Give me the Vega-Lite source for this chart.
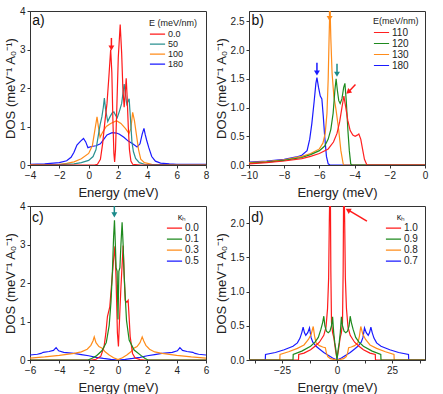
{
"$schema":"https://vega.github.io/schema/vega-lite/v6.json",
"padding":{"left":3,"top":5,"right":5,"bottom":3},
"config":{
 "font":"Liberation Sans",
 "view":{"stroke":"#333","strokeWidth":1},
 "axis":{"grid":false,"tickCount":30,"tickSize":3,"labelFontSize":10,"titleFontSize":13,"titleFontWeight":"normal","labelColor":"#222","titleColor":"#222","domainColor":"#333","tickColor":"#333","labelPadding":2,"titlePadding":2,"labelFlush":false,"labelOverlap":false},
 "axisX":{"titlePadding":6},
 "legend":{"orient":"top-right","offset":7,"padding":0,"titleFontSize":9,"titleFontWeight":"normal","labelFontSize":9,"symbolStrokeWidth":1.6,"symbolSize":230,"symbolType":"stroke","rowPadding":0,"labelOffset":2,"titlePadding":1,"labelColor":"#222","titleColor":"#222"},
 "line":{"strokeWidth":1.2}
},
"resolve":{"scale":{"color":"independent"}},
"spacing":0,
"vconcat":[
{"hconcat":[
{"width":176,"height":154,
 "layer":[
 {"data":{"values":[
 {"s":"180","x":-4,"y":0.02},{"s":"180","x":-3,"y":0.03},{"s":"180","x":-2,"y":0.06},{"s":"180","x":-1.5,"y":0.11},{"s":"180","x":-1.2,"y":0.2},{"s":"180","x":-1.0,"y":0.33},{"s":"180","x":-0.8,"y":0.52},{"s":"180","x":-0.55,"y":0.62},{"s":"180","x":-0.35,"y":0.69},{"s":"180","x":-0.2,"y":0.6},{"s":"180","x":-0.05,"y":0.45},{"s":"180","x":0.2,"y":0.48},{"s":"180","x":0.5,"y":0.5},{"s":"180","x":0.8,"y":0.55},{"s":"180","x":1.0,"y":0.65},{"s":"180","x":1.25,"y":0.78},{"s":"180","x":1.6,"y":0.84},{"s":"180","x":1.9,"y":0.83},{"s":"180","x":2.1,"y":0.8},{"s":"180","x":2.4,"y":0.72},{"s":"180","x":2.7,"y":0.62},{"s":"180","x":3.0,"y":0.55},{"s":"180","x":3.3,"y":0.47},{"s":"180","x":3.5,"y":0.55},{"s":"180","x":3.65,"y":0.8},{"s":"180","x":3.77,"y":0.95},{"s":"180","x":3.85,"y":0.8},{"s":"180","x":3.95,"y":0.65},{"s":"180","x":4.1,"y":0.45},{"s":"180","x":4.3,"y":0.22},{"s":"180","x":4.55,"y":0.1},{"s":"180","x":4.9,"y":0.05},{"s":"180","x":5.5,"y":0.03},{"s":"180","x":6,"y":0.02},{"s":"180","x":8,"y":0.02},
 {"s":"100","x":-4,"y":0.01},{"s":"100","x":-2,"y":0.02},{"s":"100","x":-1.5,"y":0.04},{"s":"100","x":-1,"y":0.08},{"s":"100","x":-0.5,"y":0.16},{"s":"100","x":0,"y":0.3},{"s":"100","x":0.25,"y":0.5},{"s":"100","x":0.42,"y":0.9},{"s":"100","x":0.57,"y":1.25},{"s":"100","x":0.68,"y":0.95},{"s":"100","x":0.78,"y":0.72},{"s":"100","x":0.95,"y":0.85},{"s":"100","x":1.2,"y":1.0},{"s":"100","x":1.5,"y":1.08},{"s":"100","x":1.9,"y":1.15},{"s":"100","x":2.2,"y":1.08},{"s":"100","x":2.5,"y":0.95},{"s":"100","x":2.75,"y":0.82},{"s":"100","x":2.88,"y":0.95},{"s":"100","x":3.0,"y":1.37},{"s":"100","x":3.12,"y":1.15},{"s":"100","x":3.25,"y":0.8},{"s":"100","x":3.4,"y":0.4},{"s":"100","x":3.55,"y":0.15},{"s":"100","x":3.8,"y":0.06},{"s":"100","x":4.3,"y":0.02},{"s":"100","x":5,"y":0.01},{"s":"100","x":8,"y":0.01},
 {"s":"50","x":-4,"y":0},{"s":"50","x":-2,"y":0.01},{"s":"50","x":-1,"y":0.03},{"s":"50","x":-0.5,"y":0.06},{"s":"50","x":0,"y":0.12},{"s":"50","x":0.3,"y":0.22},{"s":"50","x":0.5,"y":0.4},{"s":"50","x":0.65,"y":0.75},{"s":"50","x":0.78,"y":1.05},{"s":"50","x":0.9,"y":1.25},{"s":"50","x":1.0,"y":1.5},{"s":"50","x":1.07,"y":1.74},{"s":"50","x":1.15,"y":1.45},{"s":"50","x":1.3,"y":1.13},{"s":"50","x":1.45,"y":1.25},{"s":"50","x":1.6,"y":1.35},{"s":"50","x":1.72,"y":1.38},{"s":"50","x":1.85,"y":1.28},{"s":"50","x":1.95,"y":1.23},{"s":"50","x":2.1,"y":1.4},{"s":"50","x":2.25,"y":1.6},{"s":"50","x":2.35,"y":1.9},{"s":"50","x":2.42,"y":2.1},{"s":"50","x":2.5,"y":1.85},{"s":"50","x":2.6,"y":1.58},{"s":"50","x":2.68,"y":1.65},{"s":"50","x":2.76,"y":1.72},{"s":"50","x":2.85,"y":1.2},{"s":"50","x":2.95,"y":0.6},{"s":"50","x":3.05,"y":0.35},{"s":"50","x":3.2,"y":0.17},{"s":"50","x":3.45,"y":0.06},{"s":"50","x":3.8,"y":0.02},{"s":"50","x":5,"y":0.01},{"s":"50","x":8,"y":0.01},
 {"s":"0.0","x":-4,"y":0},{"s":"0.0","x":0.4,"y":0},{"s":"0.0","x":0.6,"y":0.02},{"s":"0.0","x":0.8,"y":0.15},{"s":"0.0","x":0.95,"y":0.55},{"s":"0.0","x":1.1,"y":1.1},{"s":"0.0","x":1.25,"y":1.6},{"s":"0.0","x":1.38,"y":2.3},{"s":"0.0","x":1.5,"y":3.0},{"s":"0.0","x":1.58,"y":2.4},{"s":"0.0","x":1.65,"y":1.2},{"s":"0.0","x":1.72,"y":0.3},{"s":"0.0","x":1.77,"y":0.08},{"s":"0.0","x":1.83,"y":0.4},{"s":"0.0","x":1.92,"y":1.5},{"s":"0.0","x":2.02,"y":2.8},{"s":"0.0","x":2.15,"y":3.65},{"s":"0.0","x":2.25,"y":2.9},{"s":"0.0","x":2.33,"y":2.0},{"s":"0.0","x":2.42,"y":1.5},{"s":"0.0","x":2.5,"y":1.9},{"s":"0.0","x":2.56,"y":2.25},{"s":"0.0","x":2.62,"y":1.8},{"s":"0.0","x":2.7,"y":1.0},{"s":"0.0","x":2.78,"y":0.4},{"s":"0.0","x":2.88,"y":0.1},{"s":"0.0","x":3.0,"y":0.02},{"s":"0.0","x":3.5,"y":0},{"s":"0.0","x":8,"y":0}
 ]},
 "mark":{"type":"line","clip":true},
 "encoding":{
  "x":{"field":"x","type":"quantitative","scale":{"domain":[-4,8],"nice":false},"axis":{"values":[-4,-2,0,2,4,6,8],"format":"d","title":"Energy (meV)"}},
  "y":{"field":"y","type":"quantitative","scale":{"domain":[0,4],"nice":false},"axis":{"values":[0,1,2,3,4],"format":"d","title":"DOS (meV⁻¹ A₀⁻¹)"}},
  "color":{"field":"s","type":"nominal","sort":null,"scale":{"domain":["0.0","50","100","180"],"range":["#ff1a1a","#2a9090","#ff8c1a","#1a1aff"]},"legend":{"title":"E (meV/nm)","clipHeight":8.3,"offset":8,"titlePadding":2}}
 }},
 {"data":{"values":[{"x":1.55,"y":3.3,"x2":1.55,"y2":3.05}]},"mark":{"type":"rule","color":"#ff1a1a","strokeWidth":1.5},"encoding":{"x":{"field":"x","type":"quantitative"},"y":{"field":"y","type":"quantitative"},"x2":{"field":"x2"},"y2":{"field":"y2"}}},
 {"data":{"values":[{"x":1.55,"y":3.04}]},"mark":{"type":"point","shape":"triangle-down","filled":true,"size":35,"color":"#ff1a1a","opacity":1},"encoding":{"x":{"field":"x","type":"quantitative"},"y":{"field":"y","type":"quantitative"}}},
 {"data":{"values":[{"x":-3.85,"y":3.93,"t":"a)"}]},"mark":{"type":"text","align":"left","baseline":"top","fontSize":14,"color":"#111"},"encoding":{"x":{"field":"x","type":"quantitative"},"y":{"field":"y","type":"quantitative"},"text":{"field":"t"}}}
 ]},
{"width":176,"height":154,
 "layer":[
 {"data":{"values":[
 {"s":"180","x":-10,"y":0.05},{"s":"180","x":-9,"y":0.07},{"s":"180","x":-8,"y":0.1},{"s":"180","x":-7.3,"y":0.14},{"s":"180","x":-7,"y":0.17},{"s":"180","x":-6.7,"y":0.25},{"s":"180","x":-6.55,"y":0.45},{"s":"180","x":-6.43,"y":0.72},{"s":"180","x":-6.3,"y":1.1},{"s":"180","x":-6.2,"y":1.42},{"s":"180","x":-6.14,"y":1.52},{"s":"180","x":-6.05,"y":1.35},{"s":"180","x":-5.95,"y":1.2},{"s":"180","x":-5.86,"y":1.15},{"s":"180","x":-5.78,"y":0.85},{"s":"180","x":-5.7,"y":0.5},{"s":"180","x":-5.6,"y":0.15},{"s":"180","x":-5.5,"y":0.02},{"s":"180","x":-5.4,"y":0},{"s":"180","x":0,"y":0},
 {"s":"130","x":-10,"y":0.04},{"s":"130","x":-9,"y":0.06},{"s":"130","x":-8,"y":0.09},{"s":"130","x":-7,"y":0.15},{"s":"130","x":-6.5,"y":0.2},{"s":"130","x":-6,"y":0.28},{"s":"130","x":-5.8,"y":0.38},{"s":"130","x":-5.67,"y":0.55},{"s":"130","x":-5.57,"y":0.9},{"s":"130","x":-5.5,"y":1.5},{"s":"130","x":-5.45,"y":2.2},{"s":"130","x":-5.4,"y":2.8},{"s":"130","x":-5.35,"y":2.2},{"s":"130","x":-5.28,"y":1.6},{"s":"130","x":-5.18,"y":1.2},{"s":"130","x":-5.05,"y":0.95},{"s":"130","x":-4.9,"y":0.6},{"s":"130","x":-4.78,"y":0.25},{"s":"130","x":-4.65,"y":0.02},{"s":"130","x":-4.6,"y":0},{"s":"130","x":0,"y":0},
 {"s":"120","x":-10,"y":0.03},{"s":"120","x":-9,"y":0.05},{"s":"120","x":-8,"y":0.08},{"s":"120","x":-7,"y":0.13},{"s":"120","x":-6.5,"y":0.18},{"s":"120","x":-6,"y":0.25},{"s":"120","x":-5.7,"y":0.33},{"s":"120","x":-5.5,"y":0.45},{"s":"120","x":-5.35,"y":0.62},{"s":"120","x":-5.22,"y":0.9},{"s":"120","x":-5.12,"y":1.3},{"s":"120","x":-5.05,"y":1.5},{"s":"120","x":-4.98,"y":1.3},{"s":"120","x":-4.9,"y":1.12},{"s":"120","x":-4.82,"y":1.07},{"s":"120","x":-4.72,"y":1.15},{"s":"120","x":-4.62,"y":1.35},{"s":"120","x":-4.55,"y":1.42},{"s":"120","x":-4.47,"y":1.1},{"s":"120","x":-4.38,"y":0.6},{"s":"120","x":-4.3,"y":0.25},{"s":"120","x":-4.22,"y":0.02},{"s":"120","x":-4.15,"y":0},{"s":"120","x":0,"y":0},
 {"s":"110","x":-10,"y":0.02},{"s":"110","x":-9,"y":0.04},{"s":"110","x":-8,"y":0.07},{"s":"110","x":-7,"y":0.11},{"s":"110","x":-6.5,"y":0.15},{"s":"110","x":-6,"y":0.2},{"s":"110","x":-5.5,"y":0.28},{"s":"110","x":-5.2,"y":0.4},{"s":"110","x":-5.0,"y":0.55},{"s":"110","x":-4.85,"y":0.75},{"s":"110","x":-4.72,"y":1.0},{"s":"110","x":-4.61,"y":1.2},{"s":"110","x":-4.5,"y":1.0},{"s":"110","x":-4.39,"y":0.78},{"s":"110","x":-4.25,"y":0.6},{"s":"110","x":-4.1,"y":0.52},{"s":"110","x":-3.97,"y":0.5},{"s":"110","x":-3.85,"y":0.52},{"s":"110","x":-3.76,"y":0.54},{"s":"110","x":-3.65,"y":0.45},{"s":"110","x":-3.55,"y":0.28},{"s":"110","x":-3.44,"y":0.1},{"s":"110","x":-3.3,"y":0},{"s":"110","x":0,"y":0}
 ]},
 "mark":{"type":"line","clip":true},
 "encoding":{
  "x":{"field":"x","type":"quantitative","scale":{"domain":[-10,0],"nice":false},"axis":{"values":[-10,-8,-6,-4,-2,0],"format":"d","title":"Energy (meV)"}},
  "y":{"field":"y","type":"quantitative","scale":{"domain":[0,2.68],"nice":false},"axis":{"values":[0,0.5,1,1.5,2,2.5],"format":".1f","title":"DOS (meV⁻¹ A₀⁻¹)"}},
  "color":{"field":"s","type":"nominal","sort":null,"scale":{"domain":["110","120","130","180"],"range":["#ff2020","#1e8a1e","#ff8c1a","#1a1aff"]},"legend":{"title":"E(meV/nm)","clipHeight":11,"labelFontSize":10,"offset":6}}
 }},
 {"data":{"values":[{"x":-5.42,"y":2.68,"x2":-5.42,"y2":2.53}]},"mark":{"type":"rule","strokeWidth":1.5,"color":"#ff8c1a"},"encoding":{"x":{"field":"x","type":"quantitative"},"y":{"field":"y","type":"quantitative"},"x2":{"field":"x2"},"y2":{"field":"y2"}}},
 {"data":{"values":[{"x":-5.0,"y":1.76,"x2":-5.0,"y2":1.58}]},"mark":{"type":"rule","strokeWidth":1.5,"color":"#1a8a8a"},"encoding":{"x":{"field":"x","type":"quantitative"},"y":{"field":"y","type":"quantitative"},"x2":{"field":"x2"},"y2":{"field":"y2"}}},
 {"data":{"values":[{"x":-6.14,"y":1.78,"x2":-6.14,"y2":1.6}]},"mark":{"type":"rule","strokeWidth":1.5,"color":"#1a1aff"},"encoding":{"x":{"field":"x","type":"quantitative"},"y":{"field":"y","type":"quantitative"},"x2":{"field":"x2"},"y2":{"field":"y2"}}},
 {"data":{"values":[{"x":-3.95,"y":1.4,"x2":-4.35,"y2":1.27}]},"mark":{"type":"rule","strokeWidth":1.5,"color":"#ff1a1a"},"encoding":{"x":{"field":"x","type":"quantitative"},"y":{"field":"y","type":"quantitative"},"x2":{"field":"x2"},"y2":{"field":"y2"}}},
 {"data":{"values":[{"x":-5.0,"y":1.58}]},"mark":{"type":"point","shape":"triangle-down","filled":true,"size":35,"opacity":1,"color":"#1a8a8a"},"encoding":{"x":{"field":"x","type":"quantitative"},"y":{"field":"y","type":"quantitative"}}},
 {"data":{"values":[{"x":-5.42,"y":2.55}]},"mark":{"type":"point","shape":"triangle-down","filled":true,"size":35,"opacity":1,"color":"#ff8c1a"},"encoding":{"x":{"field":"x","type":"quantitative"},"y":{"field":"y","type":"quantitative"}}},
 {"data":{"values":[{"x":-6.14,"y":1.6}]},"mark":{"type":"point","shape":"triangle-down","filled":true,"size":35,"opacity":1,"color":"#1a1aff"},"encoding":{"x":{"field":"x","type":"quantitative"},"y":{"field":"y","type":"quantitative"}}},
 {"data":{"values":[{"x":-4.36,"y":1.27}]},"mark":{"type":"point","shape":"triangle-up","angle":228,"filled":true,"size":35,"opacity":1,"color":"#ff1a1a"},"encoding":{"x":{"field":"x","type":"quantitative"},"y":{"field":"y","type":"quantitative"}}},
 {"data":{"values":[{"x":-9.86,"y":2.62,"t":"b)"}]},"mark":{"type":"text","align":"left","baseline":"top","fontSize":14,"color":"#111"},"encoding":{"x":{"field":"x","type":"quantitative"},"y":{"field":"y","type":"quantitative"},"text":{"field":"t"}}}
 ]}
],"spacing":4,"resolve":{"scale":{"color":"independent"}}},
{"hconcat":[
{"width":176,"height":154,
 "layer":[
 {"data":{"values":[
 {"s":"0.5","x":-6,"y":0.13},{"s":"0.5","x":-5.5,"y":0.15},{"s":"0.5","x":-5.25,"y":0.17},{"s":"0.5","x":-5.1,"y":0.2},{"s":"0.5","x":-4.7,"y":0.22},{"s":"0.5","x":-4.4,"y":0.25},{"s":"0.5","x":-4.22,"y":0.32},{"s":"0.5","x":-4.05,"y":0.24},{"s":"0.5","x":-3.7,"y":0.2},{"s":"0.5","x":-3,"y":0.17},{"s":"0.5","x":-2.5,"y":0.14},{"s":"0.5","x":-2,"y":0.11},{"s":"0.5","x":-1.5,"y":0.07},{"s":"0.5","x":-1,"y":0.04},{"s":"0.5","x":-0.5,"y":0.015},{"s":"0.5","x":0,"y":0},{"s":"0.5","x":0.5,"y":0.015},{"s":"0.5","x":1,"y":0.04},{"s":"0.5","x":1.5,"y":0.07},{"s":"0.5","x":2,"y":0.11},{"s":"0.5","x":2.5,"y":0.14},{"s":"0.5","x":3,"y":0.17},{"s":"0.5","x":3.7,"y":0.2},{"s":"0.5","x":4.05,"y":0.24},{"s":"0.5","x":4.22,"y":0.32},{"s":"0.5","x":4.4,"y":0.25},{"s":"0.5","x":4.7,"y":0.22},{"s":"0.5","x":5.1,"y":0.2},{"s":"0.5","x":5.25,"y":0.17},{"s":"0.5","x":5.5,"y":0.15},{"s":"0.5","x":6,"y":0.13},
 {"s":"0.3","x":-6,"y":0.05},{"s":"0.3","x":-5,"y":0.08},{"s":"0.3","x":-4,"y":0.12},{"s":"0.3","x":-3,"y":0.17},{"s":"0.3","x":-2.5,"y":0.21},{"s":"0.3","x":-2.1,"y":0.28},{"s":"0.3","x":-1.85,"y":0.38},{"s":"0.3","x":-1.7,"y":0.5},{"s":"0.3","x":-1.62,"y":0.6},{"s":"0.3","x":-1.5,"y":0.45},{"s":"0.3","x":-1.3,"y":0.35},{"s":"0.3","x":-1.05,"y":0.3},{"s":"0.3","x":-0.9,"y":0.22},{"s":"0.3","x":-0.6,"y":0.13},{"s":"0.3","x":-0.3,"y":0.06},{"s":"0.3","x":0,"y":0.01},{"s":"0.3","x":0.3,"y":0.06},{"s":"0.3","x":0.6,"y":0.13},{"s":"0.3","x":0.9,"y":0.22},{"s":"0.3","x":1.05,"y":0.3},{"s":"0.3","x":1.3,"y":0.35},{"s":"0.3","x":1.5,"y":0.45},{"s":"0.3","x":1.65,"y":0.6},{"s":"0.3","x":1.75,"y":0.5},{"s":"0.3","x":1.9,"y":0.38},{"s":"0.3","x":2.15,"y":0.28},{"s":"0.3","x":2.5,"y":0.21},{"s":"0.3","x":3,"y":0.17},{"s":"0.3","x":4,"y":0.12},{"s":"0.3","x":5,"y":0.08},{"s":"0.3","x":6,"y":0.05},
 {"s":"0.0","x":-6,"y":0},{"s":"0.0","x":-1.8,"y":0},{"s":"0.0","x":-1.5,"y":0.02},{"s":"0.0","x":-1.17,"y":0.1},{"s":"0.0","x":-0.95,"y":0.35},{"s":"0.0","x":-0.83,"y":0.69},{"s":"0.0","x":-0.72,"y":1.13},{"s":"0.0","x":-0.56,"y":1.38},{"s":"0.0","x":-0.45,"y":1.9},{"s":"0.0","x":-0.31,"y":2.58},{"s":"0.0","x":-0.21,"y":2.95},{"s":"0.0","x":-0.13,"y":2.07},{"s":"0.0","x":-0.04,"y":0.7},{"s":"0.0","x":0.03,"y":0.35},{"s":"0.0","x":0.12,"y":1.2},{"s":"0.0","x":0.19,"y":1.81},{"s":"0.0","x":0.35,"y":2.97},{"s":"0.0","x":0.42,"y":2.2},{"s":"0.0","x":0.49,"y":1.55},{"s":"0.0","x":0.6,"y":1.5},{"s":"0.0","x":0.69,"y":1.55},{"s":"0.0","x":0.76,"y":1.1},{"s":"0.0","x":0.83,"y":0.61},{"s":"0.0","x":0.99,"y":0.17},{"s":"0.0","x":1.17,"y":0.05},{"s":"0.0","x":1.5,"y":0.01},{"s":"0.0","x":1.8,"y":0},{"s":"0.0","x":6,"y":0},
 {"s":"0.1","x":-6,"y":0},{"s":"0.1","x":-2.05,"y":0},{"s":"0.1","x":-1.8,"y":0.04},{"s":"0.1","x":-1.5,"y":0.1},{"s":"0.1","x":-1.1,"y":0.24},{"s":"0.1","x":-0.8,"y":0.45},{"s":"0.1","x":-0.6,"y":0.9},{"s":"0.1","x":-0.48,"y":1.5},{"s":"0.1","x":-0.38,"y":2.3},{"s":"0.1","x":-0.3,"y":3.2},{"s":"0.1","x":-0.24,"y":3.63},{"s":"0.1","x":-0.18,"y":3.0},{"s":"0.1","x":-0.13,"y":2.4},{"s":"0.1","x":-0.06,"y":2.3},{"s":"0.1","x":0.0,"y":1.05},{"s":"0.1","x":0.06,"y":2.3},{"s":"0.1","x":0.13,"y":2.4},{"s":"0.1","x":0.2,"y":3.0},{"s":"0.1","x":0.28,"y":3.58},{"s":"0.1","x":0.35,"y":3.0},{"s":"0.1","x":0.42,"y":2.2},{"s":"0.1","x":0.5,"y":1.6},{"s":"0.1","x":0.58,"y":1.03},{"s":"0.1","x":0.76,"y":0.52},{"s":"0.1","x":1.1,"y":0.26},{"s":"0.1","x":1.56,"y":0.12},{"s":"0.1","x":1.85,"y":0.04},{"s":"0.1","x":2.05,"y":0},{"s":"0.1","x":6,"y":0}
 ]},
 "mark":{"type":"line","clip":true},
 "encoding":{
  "x":{"field":"x","type":"quantitative","scale":{"domain":[-6,6],"nice":false},"axis":{"values":[-6,-4,-2,0,2,4,6],"format":"d","title":"Energy (meV)"}},
  "y":{"field":"y","type":"quantitative","scale":{"domain":[0,4],"nice":false},"axis":{"values":[0,1,2,3,4],"format":"d","title":"DOS (meV⁻¹ A₀⁻¹)"}},
  "color":{"field":"s","type":"nominal","sort":null,"scale":{"domain":["0.0","0.1","0.3","0.5"],"range":["#ff1a1a","#1e8a1e","#ff8c1a","#1a1aff"]},"legend":{"title":"κₕ","clipHeight":10.2,"titleAnchor":"middle","titleAlign":"center","titlePadding":1,"labelFontSize":10}}
 }},
 {"data":{"values":[{"x":-0.25,"y":4.0,"x2":-0.25,"y2":3.78}]},"mark":{"type":"rule","color":"#1a8a8a","strokeWidth":1.5},"encoding":{"x":{"field":"x","type":"quantitative"},"y":{"field":"y","type":"quantitative"},"x2":{"field":"x2"},"y2":{"field":"y2"}}},
 {"data":{"values":[{"x":-0.25,"y":3.77}]},"mark":{"type":"point","shape":"triangle-down","filled":true,"size":35,"color":"#1a8a8a","opacity":1},"encoding":{"x":{"field":"x","type":"quantitative"},"y":{"field":"y","type":"quantitative"}}},
 {"data":{"values":[{"x":-5.86,"y":3.86,"t":"c)"}]},"mark":{"type":"text","align":"left","baseline":"top","fontSize":14,"color":"#111"},"encoding":{"x":{"field":"x","type":"quantitative"},"y":{"field":"y","type":"quantitative"},"text":{"field":"t"}}}
 ]},
{"width":176,"height":154,
 "layer":[
 {"data":{"values":[
 {"s":"0.7","x":-40,"y":0},{"s":"0.7","x":-32.6,"y":0},{"s":"0.7","x":-32.5,"y":0.08},{"s":"0.7","x":-28,"y":0.11},{"s":"0.7","x":-24,"y":0.15},{"s":"0.7","x":-20,"y":0.2},{"s":"0.7","x":-18,"y":0.25},{"s":"0.7","x":-16.8,"y":0.32},{"s":"0.7","x":-16,"y":0.4},{"s":"0.7","x":-15.4,"y":0.48},{"s":"0.7","x":-14.8,"y":0.4},{"s":"0.7","x":-14.2,"y":0.36},{"s":"0.7","x":-13.3,"y":0.4},{"s":"0.7","x":-12.5,"y":0.47},{"s":"0.7","x":-11.8,"y":0.33},{"s":"0.7","x":-11,"y":0.26},{"s":"0.7","x":-9.5,"y":0.2},{"s":"0.7","x":-8,"y":0.16},{"s":"0.7","x":-6,"y":0.11},{"s":"0.7","x":-4,"y":0.07},{"s":"0.7","x":-2,"y":0.03},{"s":"0.7","x":0,"y":0},{"s":"0.7","x":2,"y":0.03},{"s":"0.7","x":4,"y":0.07},{"s":"0.7","x":6,"y":0.11},{"s":"0.7","x":8,"y":0.16},{"s":"0.7","x":9.5,"y":0.2},{"s":"0.7","x":11,"y":0.26},{"s":"0.7","x":11.8,"y":0.33},{"s":"0.7","x":12.5,"y":0.47},{"s":"0.7","x":13.3,"y":0.4},{"s":"0.7","x":14.2,"y":0.36},{"s":"0.7","x":14.8,"y":0.4},{"s":"0.7","x":15.4,"y":0.48},{"s":"0.7","x":16,"y":0.4},{"s":"0.7","x":16.8,"y":0.32},{"s":"0.7","x":18,"y":0.25},{"s":"0.7","x":20,"y":0.2},{"s":"0.7","x":24,"y":0.15},{"s":"0.7","x":28,"y":0.11},{"s":"0.7","x":32.5,"y":0.08},{"s":"0.7","x":32.6,"y":0},{"s":"0.7","x":40,"y":0},
 {"s":"0.8","x":-40,"y":0},{"s":"0.8","x":-26,"y":0},{"s":"0.8","x":-25.9,"y":0.08},{"s":"0.8","x":-22,"y":0.12},{"s":"0.8","x":-18,"y":0.17},{"s":"0.8","x":-15,"y":0.22},{"s":"0.8","x":-13,"y":0.3},{"s":"0.8","x":-11.7,"y":0.38},{"s":"0.8","x":-10.8,"y":0.49},{"s":"0.8","x":-10.2,"y":0.35},{"s":"0.8","x":-9.5,"y":0.25},{"s":"0.8","x":-8,"y":0.21},{"s":"0.8","x":-6.5,"y":0.19},{"s":"0.8","x":-5.3,"y":0.18},{"s":"0.8","x":-4.8,"y":0.1},{"s":"0.8","x":-4.2,"y":0.05},{"s":"0.8","x":-3,"y":0.02},{"s":"0.8","x":-1.5,"y":0.01},{"s":"0.8","x":0,"y":0},{"s":"0.8","x":1.5,"y":0.01},{"s":"0.8","x":3,"y":0.02},{"s":"0.8","x":4.2,"y":0.05},{"s":"0.8","x":4.8,"y":0.1},{"s":"0.8","x":5.3,"y":0.18},{"s":"0.8","x":6.5,"y":0.19},{"s":"0.8","x":8,"y":0.21},{"s":"0.8","x":9.5,"y":0.25},{"s":"0.8","x":10.2,"y":0.35},{"s":"0.8","x":10.8,"y":0.49},{"s":"0.8","x":11.7,"y":0.38},{"s":"0.8","x":13,"y":0.3},{"s":"0.8","x":15,"y":0.22},{"s":"0.8","x":18,"y":0.17},{"s":"0.8","x":22,"y":0.12},{"s":"0.8","x":25.9,"y":0.08},{"s":"0.8","x":26,"y":0},{"s":"0.8","x":40,"y":0},
 {"s":"1.0","x":-40,"y":0},{"s":"1.0","x":-17.5,"y":0},{"s":"1.0","x":-17.4,"y":0.08},{"s":"1.0","x":-15,"y":0.1},{"s":"1.0","x":-12,"y":0.15},{"s":"1.0","x":-10,"y":0.2},{"s":"1.0","x":-8,"y":0.26},{"s":"1.0","x":-6,"y":0.36},{"s":"1.0","x":-5,"y":0.48},{"s":"1.0","x":-4.3,"y":0.75},{"s":"1.0","x":-3.8,"y":1.2},{"s":"1.0","x":-3.5,"y":2.0},{"s":"1.0","x":-3.3,"y":2.4},{"s":"1.0","x":-3.0,"y":2.4},{"s":"1.0","x":-2.8,"y":1.3},{"s":"1.0","x":-2.5,"y":0.55},{"s":"1.0","x":-2,"y":0.4},{"s":"1.0","x":-1.4,"y":0.32},{"s":"1.0","x":-0.7,"y":0.15},{"s":"1.0","x":0,"y":0.02},{"s":"1.0","x":0.7,"y":0.15},{"s":"1.0","x":1.4,"y":0.32},{"s":"1.0","x":2,"y":0.4},{"s":"1.0","x":2.5,"y":0.55},{"s":"1.0","x":2.8,"y":1.3},{"s":"1.0","x":3.0,"y":2.4},{"s":"1.0","x":3.3,"y":2.4},{"s":"1.0","x":3.5,"y":2.0},{"s":"1.0","x":3.8,"y":1.2},{"s":"1.0","x":4.3,"y":0.75},{"s":"1.0","x":5,"y":0.48},{"s":"1.0","x":6,"y":0.36},{"s":"1.0","x":8,"y":0.26},{"s":"1.0","x":10,"y":0.2},{"s":"1.0","x":12,"y":0.15},{"s":"1.0","x":15,"y":0.1},{"s":"1.0","x":17.4,"y":0.08},{"s":"1.0","x":17.5,"y":0},{"s":"1.0","x":40,"y":0},
 {"s":"0.9","x":-40,"y":0},{"s":"0.9","x":-20,"y":0},{"s":"0.9","x":-19.9,"y":0.08},{"s":"0.9","x":-16,"y":0.13},{"s":"0.9","x":-12,"y":0.2},{"s":"0.9","x":-10,"y":0.26},{"s":"0.9","x":-8.5,"y":0.33},{"s":"0.9","x":-7.3,"y":0.45},{"s":"0.9","x":-6.5,"y":0.55},{"s":"0.9","x":-6,"y":0.64},{"s":"0.9","x":-5.5,"y":0.5},{"s":"0.9","x":-4.8,"y":0.42},{"s":"0.9","x":-4,"y":0.4},{"s":"0.9","x":-3.2,"y":0.42},{"s":"0.9","x":-2.5,"y":0.5},{"s":"0.9","x":-2,"y":0.63},{"s":"0.9","x":-1.5,"y":0.4},{"s":"0.9","x":-1,"y":0.25},{"s":"0.9","x":-0.5,"y":0.15},{"s":"0.9","x":0,"y":0},{"s":"0.9","x":0.5,"y":0.15},{"s":"0.9","x":1,"y":0.25},{"s":"0.9","x":1.5,"y":0.4},{"s":"0.9","x":2,"y":0.63},{"s":"0.9","x":2.5,"y":0.5},{"s":"0.9","x":3.2,"y":0.42},{"s":"0.9","x":4,"y":0.4},{"s":"0.9","x":4.8,"y":0.42},{"s":"0.9","x":5.5,"y":0.5},{"s":"0.9","x":6,"y":0.64},{"s":"0.9","x":6.5,"y":0.55},{"s":"0.9","x":7.3,"y":0.45},{"s":"0.9","x":8.5,"y":0.33},{"s":"0.9","x":10,"y":0.26},{"s":"0.9","x":12,"y":0.2},{"s":"0.9","x":16,"y":0.13},{"s":"0.9","x":19.9,"y":0.08},{"s":"0.9","x":20,"y":0},{"s":"0.9","x":40,"y":0}
 ]},
 "mark":{"type":"line","clip":true},
 "encoding":{
  "x":{"field":"x","type":"quantitative","scale":{"domain":[-40,40],"nice":false},"axis":{"values":[-37.5,-25,-12.5,0,12.5,25,37.5],"labelExpr":"abs(datum.value) % 25 == 0 ? format(datum.value, 'd') : ''","title":"Energy (meV)"}},
  "y":{"field":"y","type":"quantitative","scale":{"domain":[0,2.25],"nice":false},"axis":{"values":[0,0.5,1,1.5,2],"format":".1f","title":"DOS (meV⁻¹ A₀⁻¹)"}},
  "color":{"field":"s","type":"nominal","sort":null,"scale":{"domain":["1.0","0.9","0.8","0.7"],"range":["#ff1a1a","#1e8a1e","#ff8c1a","#1a1aff"]},"legend":{"title":"κₕ","clipHeight":10.3,"titleAnchor":"middle","titleAlign":"center","titlePadding":1,"labelFontSize":10}}
 }},
 {"data":{"values":[{"x":13.6,"y":2.03,"x2":5.2,"y2":2.19}]},"mark":{"type":"rule","color":"#ff1a1a","strokeWidth":1.5},"encoding":{"x":{"field":"x","type":"quantitative"},"y":{"field":"y","type":"quantitative"},"x2":{"field":"x2"},"y2":{"field":"y2"}}},
 {"data":{"values":[{"x":5.0,"y":2.19}]},"mark":{"type":"point","shape":"triangle-up","angle":300,"filled":true,"size":35,"color":"#ff1a1a","opacity":1},"encoding":{"x":{"field":"x","type":"quantitative"},"y":{"field":"y","type":"quantitative"}}},
 {"data":{"values":[{"x":-39,"y":2.18,"t":"d)"}]},"mark":{"type":"text","align":"left","baseline":"top","fontSize":14,"color":"#111"},"encoding":{"x":{"field":"x","type":"quantitative"},"y":{"field":"y","type":"quantitative"},"text":{"field":"t"}}}
 ]}
],"spacing":4,"resolve":{"scale":{"color":"independent"}}}
]}
